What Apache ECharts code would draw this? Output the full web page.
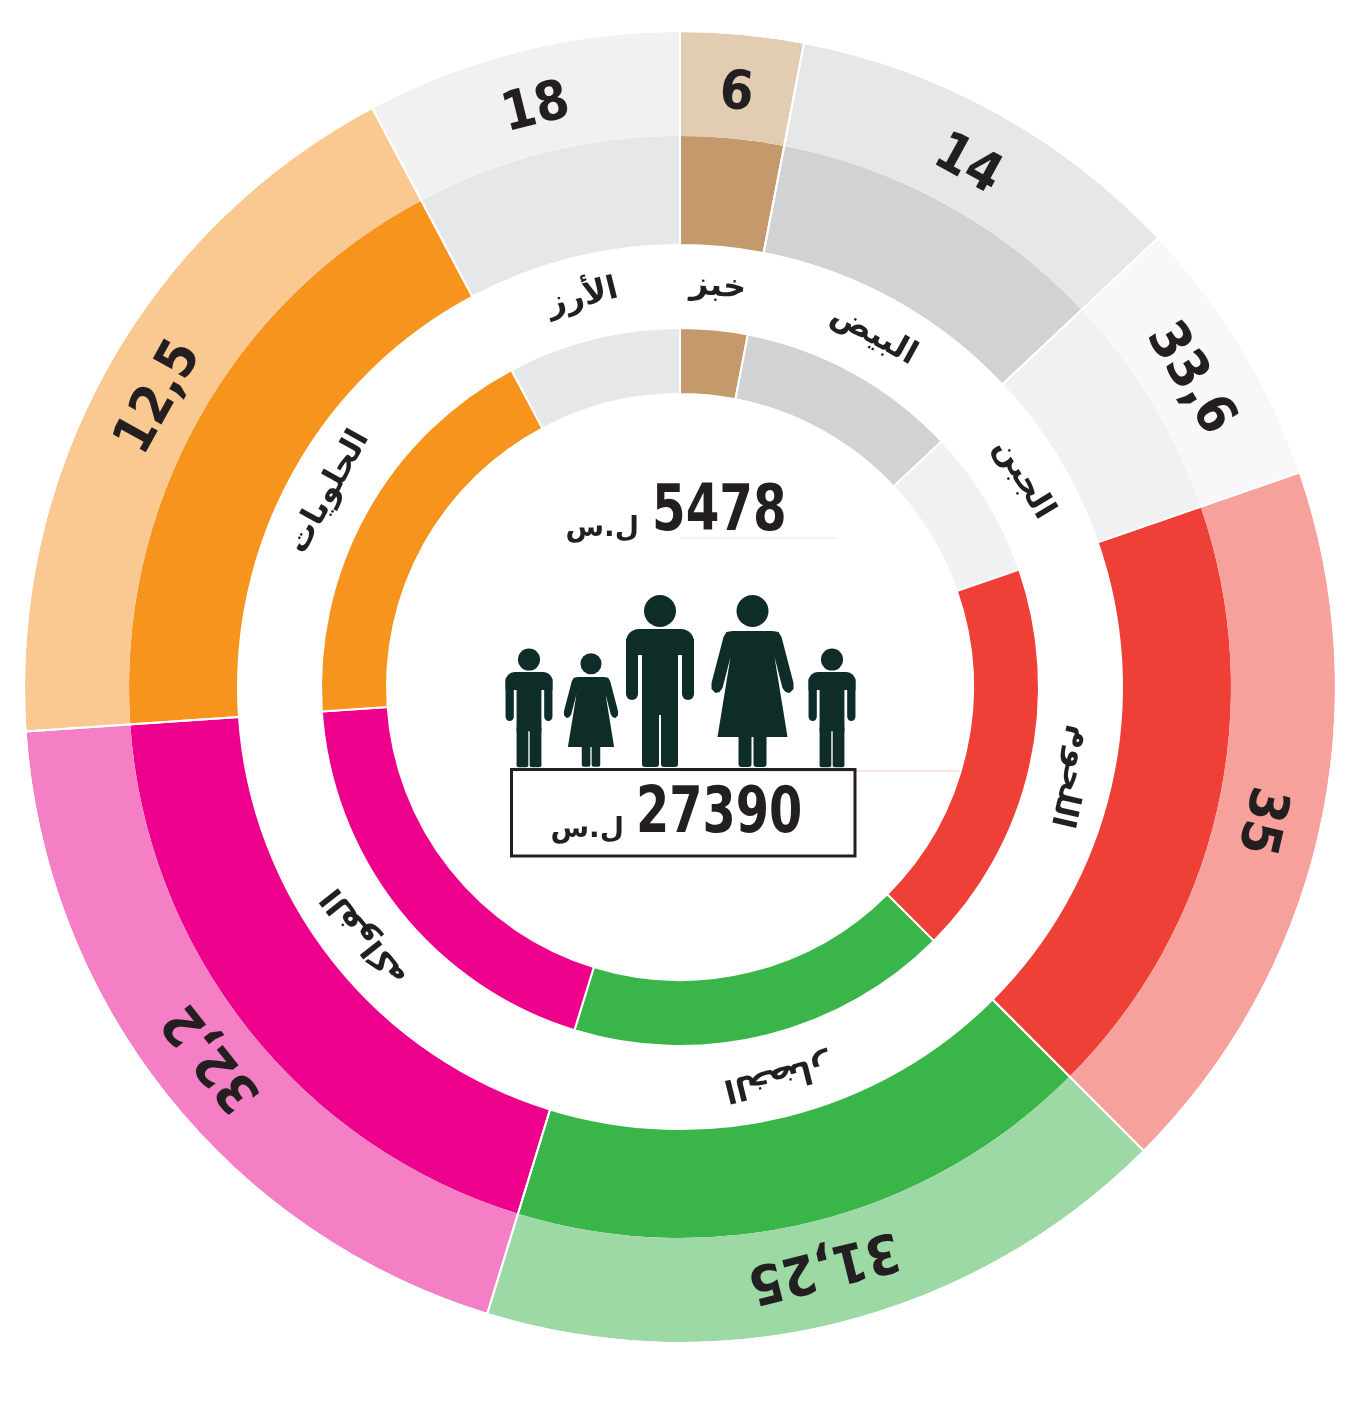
<!DOCTYPE html>
<html>
<head>
<meta charset="utf-8">
<script src="https://cdn.jsdelivr.net/npm/echarts@6/dist/echarts.min.js"></script>
<style>
html,body{margin:0;padding:0;background:#ffffff;}
#chart{width:1348px;height:1425px;}
</style>
</head>
<body>
<div id="chart"></div>
<script>
// ---- data ----
const categories = ['خبز', 'البيض', 'الجبن', 'اللحوم', 'الخضار', 'الفواكه', 'الحلويات', 'الأرز'];
const shares = [10.9, 35.9, 24.1, 64.1, 62.1, 69.0, 65.9, 28.0];
const priceLabels = ['6', '14', '33,6', '35', '31,25', '32,2', '12,5', '18'];
const darkColors = ['#c4996c', '#d1d2d4', '#f1f1f3', '#ee4037', '#39b54a', '#ec008c', '#f7941e', '#e6e7e8'];
const lightColors = ['#e2cdb3', '#e6e7e8', '#f8f8fa', '#f6a19b', '#9dd9a5', '#f47fc5', '#f9c991', '#f1f1f2'];
const personCost = '5478';
const familyCost = '27390';
const currency = 'ل.س';

// ---- layout ----
const CX = 680, CY = 687;
const INK = '#231f20';
const ICON = '#0f2d28';
const NUM_FONT = '"DejaVu Sans Condensed","DejaVu Sans",sans-serif';
const AR_FONT = '"DejaVu Sans",sans-serif';

const total = shares.reduce((a, b) => a + b, 0);
let acc = 0;
const midAngles = shares.map(v => { const m = (acc + v / 2) / total * 360; acc += v; return m; });

function ringData(colors, withRotate) {
  return categories.map((c, i) => {
    const d = { name: c, value: shares[i] };
    d.itemStyle = colors ? { color: colors[i] } : { color: 'rgba(0,0,0,0)' };
    if (withRotate) d.label = { rotate: -midAngles[i] };
    return d;
  });
}

const base = {
  type: 'pie', center: [CX, CY], startAngle: 90, clockwise: true,
  silent: true, animation: false, avoidLabelOverlap: false,
  labelLine: { show: false }, emphasis: { disabled: true },
  label: { show: false }
};

const series = [
  Object.assign({}, base, {
    name: 'inner', radius: [293, 359],
    itemStyle: { borderColor: '#ffffff', borderWidth: 2 },
    data: ringData(darkColors, false)
  }),
  Object.assign({}, base, {
    name: 'outerDark', radius: [442, 551],
    data: ringData(darkColors, false)
  }),
  Object.assign({}, base, {
    name: 'outerLight', radius: [551, 655],
    data: ringData(lightColors, false)
  }),
  Object.assign({}, base, {
    name: 'separators', radius: [442, 656],
    itemStyle: { color: 'rgba(0,0,0,0)', borderColor: '#ffffff', borderWidth: 2 },
    data: ringData(null, false)
  }),
  Object.assign({}, base, {
    name: 'names', radius: [357, 440],
    itemStyle: { color: 'rgba(0,0,0,0)', borderWidth: 0 },
    label: {
      show: true, position: 'inside', color: INK,
      fontFamily: AR_FONT, fontWeight: 'bold', fontSize: 32,
      formatter: p => categories[p.dataIndex]
    },
    data: ringData(null, true)
  }),
  Object.assign({}, base, {
    name: 'prices', radius: [537, 647],
    itemStyle: { color: 'rgba(0,0,0,0)', borderWidth: 0 },
    label: {
      show: true, position: 'inside', color: INK,
      fontFamily: NUM_FONT, fontWeight: 'bold', fontSize: 54,
      formatter: p => priceLabels[p.dataIndex]
    },
    data: ringData(null, true)
  })
];

// ---- family icons (decoration) ----
function man(x, y, s) {
  return {
    type: 'group', x: x, y: y, scaleX: s, scaleY: s, silent: true,
    children: [
      { type: 'circle', shape: { cx: 0, cy: -18, r: 16 }, style: { fill: ICON } },
      { type: 'rect', shape: { x: -34, y: 0, width: 68, height: 26, r: [13, 13, 0, 0] }, style: { fill: ICON } },
      { type: 'rect', shape: { x: -34, y: 10, width: 12, height: 61, r: [0, 0, 6, 6] }, style: { fill: ICON } },
      { type: 'rect', shape: { x: 22, y: 10, width: 12, height: 61, r: [0, 0, 6, 6] }, style: { fill: ICON } },
      { type: 'rect', shape: { x: -18, y: 10, width: 36, height: 76 }, style: { fill: ICON } },
      { type: 'rect', shape: { x: -18, y: 80, width: 17, height: 58, r: [0, 0, 3, 3] }, style: { fill: ICON } },
      { type: 'rect', shape: { x: 1, y: 80, width: 17, height: 58, r: [0, 0, 3, 3] }, style: { fill: ICON } }
    ]
  };
}
const womanOutline = [[-20, 0], [20, 0], [26, 1], [29, 6], [41, 52], [41, 58], [37, 62], [33, 61], [30, 57], [22, 26],
  [35, 106], [-35, 106], [-22, 26], [-30, 57], [-33, 61], [-37, 62], [-41, 58], [-41, 52], [-29, 6], [-26, 1]];
function woman(x, y, s) {
  return {
    type: 'group', x: x, y: y, scaleX: s, scaleY: s, silent: true,
    children: [
      { type: 'circle', shape: { cx: 0, cy: -20, r: 16 }, style: { fill: ICON } },
      { type: 'polygon', shape: { points: womanOutline }, style: { fill: ICON } },
      { type: 'rect', shape: { x: -14, y: 100, width: 13, height: 36, r: [0, 0, 3, 3] }, style: { fill: ICON } },
      { type: 'rect', shape: { x: 1, y: 100, width: 13, height: 36, r: [0, 0, 3, 3] }, style: { fill: ICON } }
    ]
  };
}

const graphic = [
  { type: 'line', shape: { x1: 680, y1: 538, x2: 837, y2: 538 }, style: { stroke: '#f4e6db', lineWidth: 1 }, silent: true },
  { type: 'line', shape: { x1: 680, y1: 771, x2: 766, y2: 771 }, style: { stroke: '#d4ecd6', lineWidth: 1 }, silent: true },
  { type: 'line', shape: { x1: 766, y1: 771, x2: 962, y2: 771 }, style: { stroke: '#f7c9c6', lineWidth: 1 }, silent: true },
  man(529, 672, 0.69),
  woman(591, 677, 0.66),
  man(660, 629, 1),
  woman(752.5, 631, 1),
  man(832, 672, 0.69),
  { type: 'rect', shape: { x: 511.5, y: 769.5, width: 343.5, height: 86.5 }, style: { fill: 'none', stroke: INK, lineWidth: 3 }, silent: true },
  { type: 'text', x: 652, y: 545, scaleX: 0.84, silent: true,
    style: { text: personCost, fill: INK, font: 'bold 64px ' + NUM_FONT, textAlign: 'left', textVerticalAlign: 'bottom' } },
  { type: 'text', x: 639, y: 543, silent: true,
    style: { text: currency, fill: INK, font: 'bold 28px ' + AR_FONT, textAlign: 'right', textVerticalAlign: 'bottom' } },
  { type: 'text', x: 636, y: 847, scaleX: 0.83, silent: true,
    style: { text: familyCost, fill: INK, font: 'bold 64px ' + NUM_FONT, textAlign: 'left', textVerticalAlign: 'bottom' } },
  { type: 'text', x: 624, y: 844, silent: true,
    style: { text: currency, fill: INK, font: 'bold 28px ' + AR_FONT, textAlign: 'right', textVerticalAlign: 'bottom' } }
];

const chart = echarts.init(document.getElementById('chart'), null, { renderer: 'canvas', width: 1348, height: 1425 });
chart.setOption({
  backgroundColor: '#ffffff',
  animation: false,
  series: series,
  graphic: { elements: graphic }
});
</script>
</body>
</html>
